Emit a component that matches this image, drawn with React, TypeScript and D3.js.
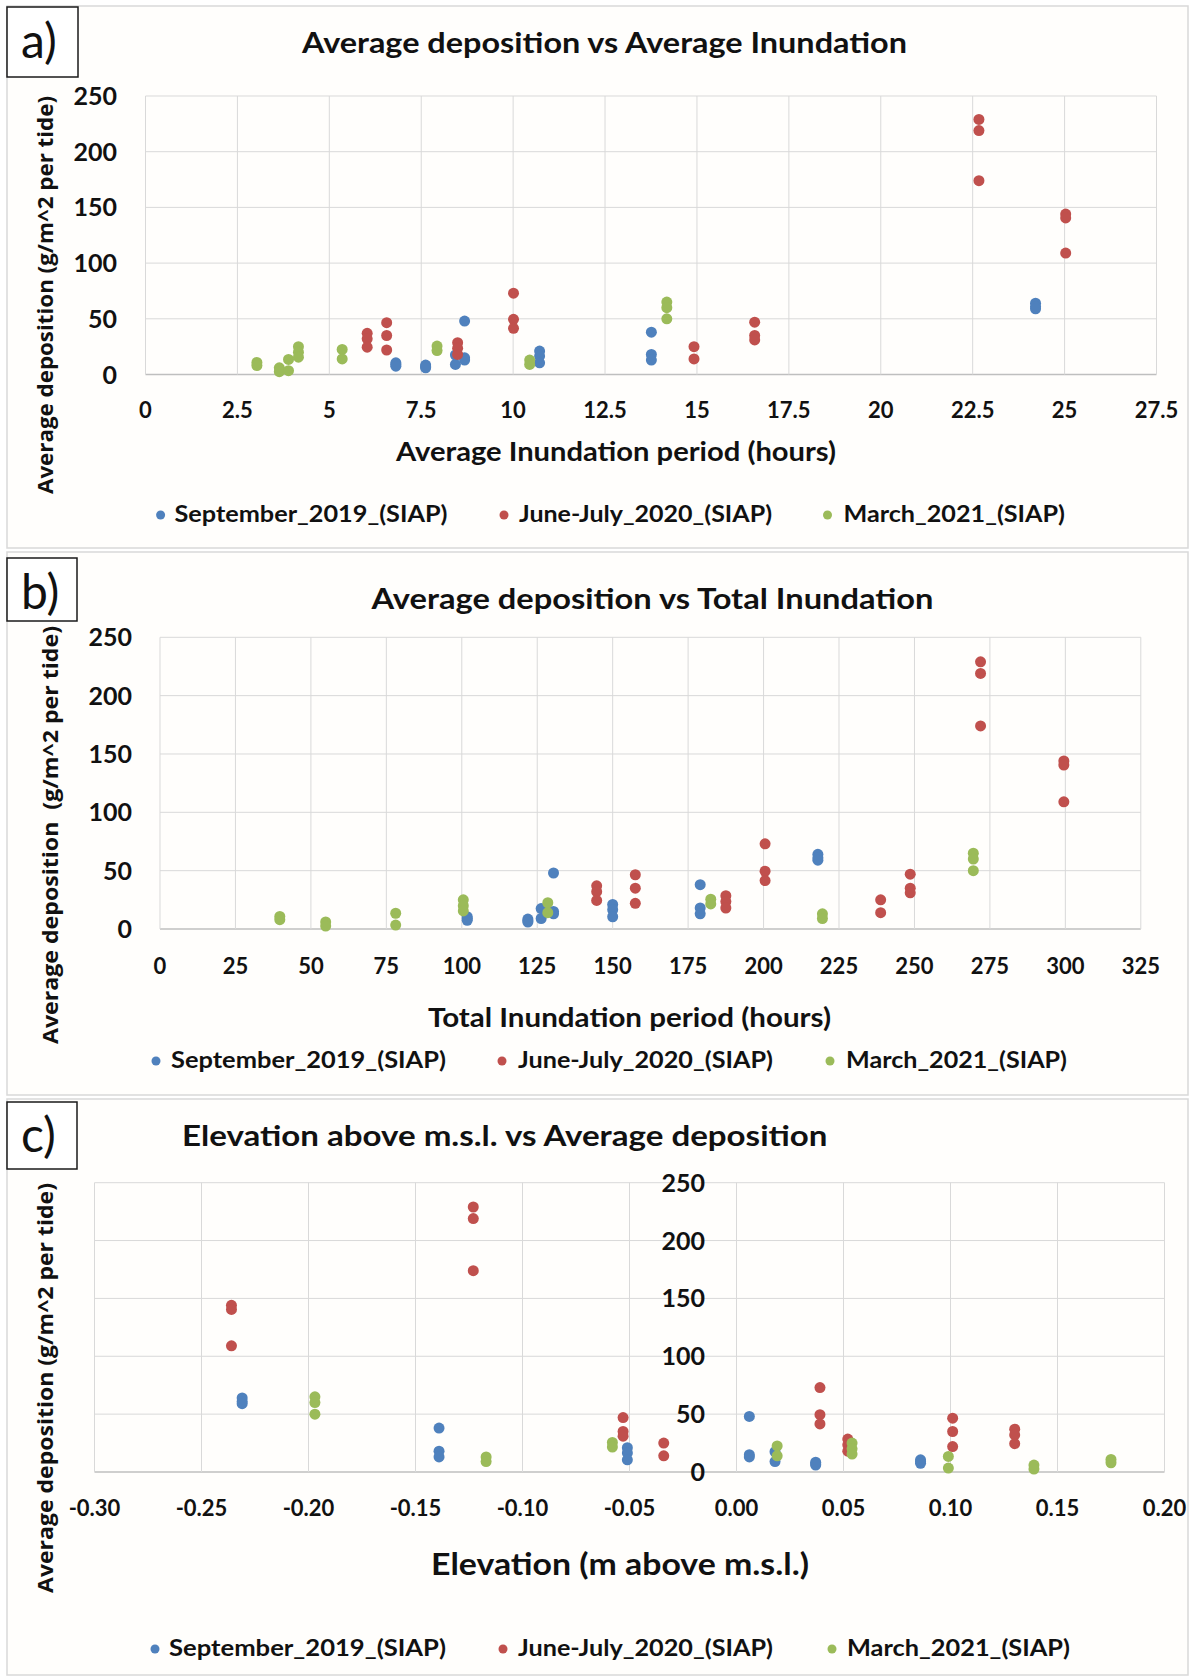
import React from "react";
import * as d3 from "d3";

// ---- September 2019 (SIAP) sites ----
const sep2019AvgInundation = [6.81, 7.62, 8.43, 8.68, 10.72, 13.76, 24.21];
const sep2019TotalInundation = [101.8, 121.9, 126.3, 130.4, 150.0, 179.0, 218.0];
const sep2019Elevation = [0.086, 0.037, 0.018, 0.006, -0.051, -0.139, -0.231];
const sep2019Deposition = [
  [10.5, 9, 7.5],
  [8.5, 7, 6],
  [17.5, 9],
  [48, 15, 13],
  [21, 16.5, 10.5],
  [38, 18, 13],
  [64, 61, 59],
];

// ---- June-July 2020 (SIAP) sites ----
const jun2020AvgInundation = [6.03, 6.56, 8.49, 10.01, 14.92, 16.57, 22.67, 25.03];
const jun2020TotalInundation = [144.7, 157.5, 187.5, 200.5, 238.8, 248.6, 271.9, 299.5];
const jun2020Elevation = [0.13, 0.101, 0.052, 0.039, -0.034, -0.053, -0.123, -0.236];
const jun2020Deposition = [
  [37, 32, 24.5],
  [46.5, 35, 22],
  [28.5, 23.5, 18],
  [73, 49.5, 41.5],
  [25, 14],
  [47, 35, 31],
  [229, 219, 174],
  [144, 140.5, 109],
];

// ---- March 2021 (SIAP) sites ----
const mar2021AvgInundation = [3.03, 3.64, 3.89, 4.16, 5.35, 7.93, 10.45, 14.18];
const mar2021TotalInundation = [39.7, 54.9, 78.1, 100.5, 128.5, 182.5, 219.5, 269.5];
const mar2021Elevation = [0.175, 0.139, 0.099, 0.054, 0.019, -0.058, -0.117, -0.197];
const mar2021Deposition = [
  [10.8, 8],
  [6, 2.5],
  [13.5, 3.4],
  [25, 20, 15.5],
  [22.5, 14],
  [25.5, 21.5],
  [13, 9],
  [65, 60, 50],
];

const seriesNames = ["September_2019_(SIAP)", "June-July_2020_(SIAP)", "March_2021_(SIAP)"];
const seriesColors = ["#4F81BD", "#C0504D", "#9BBB59"];

const depositionTicks = [0, 50, 100, 150, 200, 250];
const avgInundationTicks = [0, 2.5, 5, 7.5, 10, 12.5, 15, 17.5, 20, 22.5, 25, 27.5];
const totalInundationTicks = [0, 25, 50, 75, 100, 125, 150, 175, 200, 225, 250, 275, 300, 325];
const elevationTicks = [-0.3, -0.25, -0.2, -0.15, -0.1, -0.05, 0, 0.05, 0.1, 0.15, 0.2];

type Pt = { avg: number; total: number; elev: number; dep: number; s: number };

function flatten(avg: number[], total: number[], elev: number[], dep: number[][], s: number): Pt[] {
  const out: Pt[] = [];
  avg.forEach((a, i) => {
    dep[i].forEach((v) => out.push({ avg: a, total: total[i], elev: elev[i], dep: v, s }));
  });
  return out;
}

const points: Pt[] = [
  ...flatten(sep2019AvgInundation, sep2019TotalInundation, sep2019Elevation, sep2019Deposition, 0),
  ...flatten(jun2020AvgInundation, jun2020TotalInundation, jun2020Elevation, jun2020Deposition, 1),
  ...flatten(mar2021AvgInundation, mar2021TotalInundation, mar2021Elevation, mar2021Deposition, 2),
];

const BODY = "Lato, 'Open Sans', sans-serif";
const YTITLE = "'Open Sans', Lato, sans-serif";
const GRID = "#D9D9D9";

type PanelCfg = {
  key: string;
  label: string;
  box: [number, number, number, number];
  labelBox: [number, number, number, number];
  labelBaseline: number;
  title: string;
  titleX: [number, number];
  titleBaseline: number;
  plot: { x0: number; x1: number; y0: number; y1: number };
  xDomain: [number, number];
  xTicks: number[];
  xFmt: (v: number) => string;
  xAcc: (p: Pt) => number;
  yAxisAt: number | null;
  yTickRight: number;
  xTickBaseline: number;
  xTitle: string;
  xTitleX: [number, number];
  xTitleBaseline: number;
  xTitleSize: number;
  yTitle: string;
  yTitleCenter: [number, number];
  yTitleLen: number;
  legendBaseline: number;
  legend: [number, number, number][];
};

const panels: PanelCfg[] = [
  {
    key: "a",
    label: "a)",
    box: [7, 6, 1181, 542],
    labelBox: [7, 7, 71, 70],
    labelBaseline: 58,
    title: "Average deposition vs Average Inundation",
    titleX: [302, 907],
    titleBaseline: 53,
    plot: { x0: 145.5, x1: 1156.5, y0: 374.5, y1: 96 },
    xDomain: [0, 27.5],
    xTicks: avgInundationTicks,
    xFmt: (v) => String(v),
    xAcc: (p) => p.avg,
    yAxisAt: null,
    yTickRight: 117,
    xTickBaseline: 418,
    xTitle: "Average Inundation period (hours)",
    xTitleX: [396, 836],
    xTitleBaseline: 461,
    xTitleSize: 26,
    yTitle: "Average deposition (g/m^2 per tide)",
    yTitleCenter: [45, 295],
    yTitleLen: 398,
    legendBaseline: 522,
    legend: [
      [160.6, 174.5, 273],
      [504, 519, 253],
      [827.5, 843.5, 221.5],
    ],
  },
  {
    key: "b",
    label: "b)",
    box: [7, 552, 1181, 543],
    labelBox: [7, 558, 70, 63],
    labelBaseline: 609,
    title: "Average deposition vs Total Inundation",
    titleX: [371.5, 933.5],
    titleBaseline: 609,
    plot: { x0: 160, x1: 1140.8, y0: 929, y1: 637.3 },
    xDomain: [0, 325],
    xTicks: totalInundationTicks,
    xFmt: (v) => String(v),
    xAcc: (p) => p.total,
    yAxisAt: null,
    yTickRight: 132,
    xTickBaseline: 974,
    xTitle: "Total Inundation period (hours)",
    xTitleX: [428, 831],
    xTitleBaseline: 1027,
    xTitleSize: 26,
    yTitle: "Average deposition  (g/m^2 per tide)",
    yTitleCenter: [50, 835],
    yTitleLen: 418,
    legendBaseline: 1068,
    legend: [
      [156, 171, 275],
      [502, 518, 255],
      [830, 846, 221],
    ],
  },
  {
    key: "c",
    label: "c)",
    box: [7, 1099, 1181, 576],
    labelBox: [7, 1102, 70, 67],
    labelBaseline: 1152,
    title: "Elevation above m.s.l. vs Average deposition",
    titleX: [182, 827.5],
    titleBaseline: 1146,
    plot: { x0: 94.5, x1: 1164.5, y0: 1472, y1: 1182.7 },
    xDomain: [-0.3, 0.2],
    xTicks: elevationTicks,
    xFmt: (v) => v.toFixed(2),
    xAcc: (p) => p.elev,
    yAxisAt: 0,
    yTickRight: 705,
    xTickBaseline: 1516,
    xTitle: "Elevation (m above m.s.l.)",
    xTitleX: [431, 809],
    xTitleBaseline: 1575,
    xTitleSize: 30,
    yTitle: "Average deposition (g/m^2 per tide)",
    yTitleCenter: [45, 1388],
    yTitleLen: 410,
    legendBaseline: 1656,
    legend: [
      [155, 169, 277],
      [503, 518, 255],
      [832, 847, 223],
    ],
  },
];

function Panel({ cfg }: { cfg: PanelCfg }) {
  const { plot } = cfg;
  const x = d3.scaleLinear().domain(cfg.xDomain).range([plot.x0, plot.x1]);
  const y = d3.scaleLinear().domain([0, 250]).range([plot.y0, plot.y1]);
  const [bx, by, bw, bh] = cfg.box;
  const [lx, ly, lw, lh] = cfg.labelBox;
  const yLabelX = cfg.yTickRight;
  return (
    <g>
      <rect x={bx} y={by} width={bw} height={bh} fill="#FFFEFC" stroke={GRID} strokeWidth={1.5} />
      <rect x={lx} y={ly} width={lw} height={lh} fill="#FFFFFF" stroke="#1a1a1a" strokeWidth={1.5} />
      <text x={lx + 14} y={cfg.labelBaseline} fontFamily={BODY} fontSize={48} fill="#111">
        {cfg.label}
      </text>
      <text
        x={cfg.titleX[0]}
        y={cfg.titleBaseline}
        fontFamily={BODY}
        fontWeight={700}
        fontSize={28}
        fill="#111"
        textLength={cfg.titleX[1] - cfg.titleX[0]}
        lengthAdjust="spacingAndGlyphs"
      >
        {cfg.title}
      </text>

      {/* gridlines */}
      {depositionTicks.map((t) => (
        <line key={"gy" + t} x1={plot.x0} x2={plot.x1} y1={y(t)} y2={y(t)} stroke={t === 0 ? "#BFBFBF" : GRID} strokeWidth={t === 0 ? 1.5 : 1} />
      ))}
      {cfg.xTicks.map((t) => (
        <line key={"gx" + t} x1={x(t)} x2={x(t)} y1={plot.y0} y2={plot.y1} stroke={GRID} strokeWidth={1} />
      ))}

      {/* y tick labels */}
      {depositionTicks.map((t) => (
        <text
          key={"ty" + t}
          x={yLabelX}
          y={y(t) + 9}
          textAnchor="end"
          fontFamily={BODY}
          fontWeight={700}
          fontSize={25}
          fill="#111"
        >
          {t}
        </text>
      ))}
      {/* x tick labels */}
      {cfg.xTicks.map((t) => (
        <text
          key={"tx" + t}
          x={x(t)}
          y={cfg.xTickBaseline}
          textAnchor="middle"
          fontFamily={BODY}
          fontWeight={700}
          fontSize={22}
          fill="#111"
        >
          {cfg.xFmt(t)}
        </text>
      ))}

      {/* points */}
      {points.map((p, i) => (
        <circle key={"p" + i} cx={x(cfg.xAcc(p))} cy={y(p.dep)} r={5.5} fill={seriesColors[p.s]} />
      ))}

      {/* axis titles */}
      <text
        x={cfg.xTitleX[0]}
        y={cfg.xTitleBaseline}
        fontFamily={BODY}
        fontWeight={700}
        fontSize={cfg.xTitleSize}
        fill="#111"
        textLength={cfg.xTitleX[1] - cfg.xTitleX[0]}
        lengthAdjust="spacingAndGlyphs"
      >
        {cfg.xTitle}
      </text>
      <text
        transform={`translate(${cfg.yTitleCenter[0] + 8},${cfg.yTitleCenter[1]}) rotate(-90)`}
        textAnchor="middle"
        fontFamily={YTITLE}
        fontWeight={700}
        fontSize={22}
        fill="#111"
        textLength={cfg.yTitleLen}
        lengthAdjust="spacingAndGlyphs"
        style={{ whiteSpace: "pre" }}
      >
        {cfg.yTitle}
      </text>

      {/* legend */}
      {cfg.legend.map(([mx, tx, tl], i) => (
        <g key={"lg" + i}>
          <circle cx={mx} cy={cfg.legendBaseline - 7} r={4.5} fill={seriesColors[i]} />
          <text
            x={tx}
            y={cfg.legendBaseline}
            fontFamily={BODY}
            fontWeight={700}
            fontSize={22}
            fill="#111"
            textLength={tl}
            lengthAdjust="spacingAndGlyphs"
          >
            {seriesNames[i]}
          </text>
        </g>
      ))}
    </g>
  );
}

export default function App() {
  return (
    <svg
      width={1200}
      height={1678}
      viewBox="0 0 1200 1678"
      style={{ position: "absolute", left: 0, top: 0, display: "block", background: "#FFFFFF" }}
    >
      {panels.map((p) => (
        <Panel key={p.key} cfg={p} />
      ))}
    </svg>
  );
}
